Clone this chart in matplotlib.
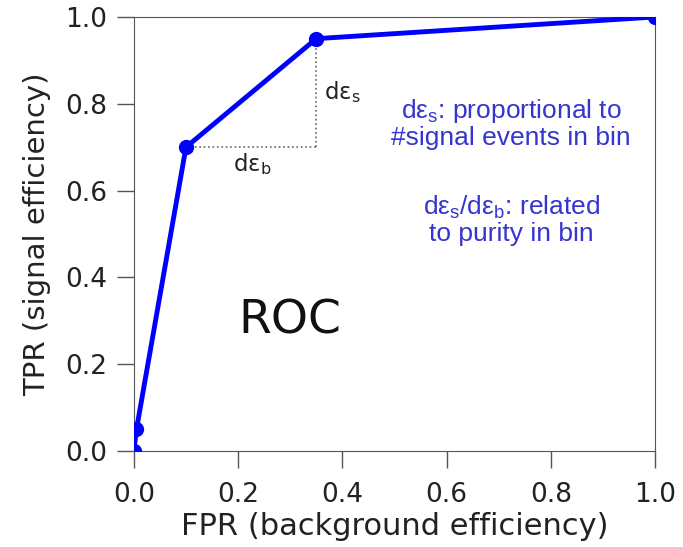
import matplotlib
matplotlib.use("Agg")
import matplotlib.pyplot as plt

# ROC working points
fpr = [0.0, 0.005, 0.1, 0.35, 1.0]
tpr = [0.0, 0.05, 0.7, 0.95, 1.0]

ticks = [0.0, 0.2, 0.4, 0.6, 0.8, 1.0]

fig = plt.figure(figsize=(6.83, 5.47), dpi=100)
ax = fig.add_axes([0.196, 0.1755, 0.763, 0.7935])

ax.plot(fpr, tpr, color="blue", lw=3.5, marker="o", ms=10, clip_on=True, zorder=3)

# step between two points
ax.plot([fpr[2], fpr[3]], [tpr[2], tpr[2]], ls=":", color="#666666", lw=1.2)
ax.plot([fpr[3], fpr[3]], [tpr[2], tpr[3]], ls=":", color="#666666", lw=1.2)

ax.text(0.19, 0.645, "dε$_\\mathregular{b}$", fontsize=16.5, color="#222222")
ax.text(0.365, 0.81, "dε$_\\mathregular{s}$", fontsize=16.5, color="#222222")

ax.text(0.30, 0.30, "ROC", fontsize=34, ha="center", va="center", color="#111111")

blue = "#3535d0"
ax.text(0.724, 0.755, "dε$_\\mathregular{s}$: proportional to\n#signal events in bin",
        fontsize=19, family="Liberation Sans", color=blue, ha="center", va="center",
        linespacing=1.05)
ax.text(0.724, 0.532, "dε$_\\mathregular{s}$/dε$_\\mathregular{b}$: related\nto purity in bin",
        fontsize=19, family="Liberation Sans", color=blue, ha="center", va="center",
        linespacing=1.05)

ax.set_xlim(0, 1)
ax.set_ylim(0, 1)
ax.set_xticks(ticks)
ax.set_yticks(ticks)
ax.tick_params(direction="out", length=12.5, width=1, color="#555555",
               labelsize=19, labelcolor="#222222", top=False, right=False)
ax.tick_params(axis="x", pad=10)
ax.tick_params(axis="y", pad=6.5)
for s in ax.spines.values():
    s.set_color("#555555")
ax.set_xlabel("FPR (background efficiency)", fontsize=22, color="#222222", labelpad=3)
ax.set_ylabel("TPR (signal efficiency)", fontsize=21, color="#222222", labelpad=10)

fig.savefig("out.png", dpi=100)
